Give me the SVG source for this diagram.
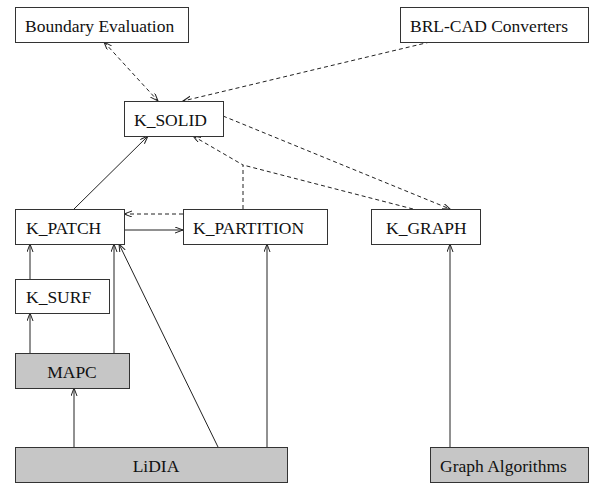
<svg xmlns="http://www.w3.org/2000/svg" width="590" height="483" viewBox="0 0 590 483">
<style>
.box{fill:#fff;stroke:#333;stroke-width:1}
.lib{fill:#c6c6c6;stroke:#333;stroke-width:1}
text{font-family:"Liberation Serif","Times New Roman",serif;font-size:17.5px;fill:#111}
.e{fill:none;stroke:#222;stroke-width:1}
.d{stroke-dasharray:4,3}
</style>
<defs>
<marker id="a" markerUnits="userSpaceOnUse" markerWidth="10" markerHeight="8" refX="8" refY="3" orient="auto-start-reverse">
<path d="M0,0 L8,3 L0,6" fill="none" stroke="#222" stroke-width="1"/>
</marker>
</defs>
<rect width="590" height="483" fill="#fff"/>
<g id="connectors">
<line class="e d" x1="104" y1="42" x2="158" y2="101" marker-start="url(#a)" marker-end="url(#a)"/>
<line class="e d" x1="430" y1="42" x2="183" y2="101" marker-end="url(#a)"/>
<line class="e d" x1="223" y1="116" x2="450" y2="209" marker-end="url(#a)"/>
<polyline class="e d" points="413,209 243,165"/>
<polyline class="e d" points="243,209 243,165 193,136" marker-end="url(#a)"/>
<line class="e" x1="74" y1="209" x2="148" y2="136" marker-end="url(#a)"/>
<line class="e d" x1="183" y1="214" x2="124" y2="214" marker-end="url(#a)"/>
<line class="e" x1="124" y1="230" x2="183" y2="230" marker-end="url(#a)"/>
<line class="e" x1="30" y1="279" x2="30" y2="244" marker-end="url(#a)"/>
<line class="e" x1="30" y1="353" x2="30" y2="313" marker-end="url(#a)"/>
<line class="e" x1="114" y1="353" x2="114" y2="244" marker-end="url(#a)"/>
<line class="e" x1="218" y1="447" x2="119" y2="244" marker-end="url(#a)"/>
<line class="e" x1="267" y1="447" x2="267" y2="244" marker-end="url(#a)"/>
<line class="e" x1="74" y1="447" x2="74" y2="388" marker-end="url(#a)"/>
<line class="e" x1="450" y1="447" x2="450" y2="244" marker-end="url(#a)"/>
</g>
<g id="boundary-evaluation"><rect class="box" x="15.5" y="7.5" width="173" height="35"/><text x="25" y="32">Boundary Evaluation</text></g>
<g id="brl-cad-converters"><rect class="box" x="400.5" y="7.5" width="188" height="35"/><text x="410" y="32">BRL-CAD Converters</text></g>
<g id="k-solid"><rect class="box" x="124.5" y="101.5" width="99" height="35"/><text x="134" y="126">K_SOLID</text></g>
<g id="k-patch"><rect class="box" x="15.5" y="209.5" width="109" height="35"/><text x="26" y="234">K_PATCH</text></g>
<g id="k-partition"><rect class="box" x="183.5" y="209.5" width="144" height="35"/><text x="193" y="234">K_PARTITION</text></g>
<g id="k-graph"><rect class="box" x="371.5" y="209.5" width="109" height="35"/><text x="386" y="234">K_GRAPH</text></g>
<g id="k-surf"><rect class="box" x="15.5" y="279.5" width="94" height="34"/><text x="26" y="303">K_SURF</text></g>
<g id="mapc"><rect class="lib" x="15.5" y="353.5" width="114" height="35"/><text x="72" y="378" text-anchor="middle">MAPC</text></g>
<g id="lidia"><rect class="lib" x="15.5" y="447.5" width="272" height="35"/><text x="156" y="472" text-anchor="middle">LiDIA</text></g>
<g id="graph-algorithms"><rect class="lib" x="430.5" y="447.5" width="158" height="35"/><text x="440" y="472">Graph Algorithms</text></g>
</svg>
